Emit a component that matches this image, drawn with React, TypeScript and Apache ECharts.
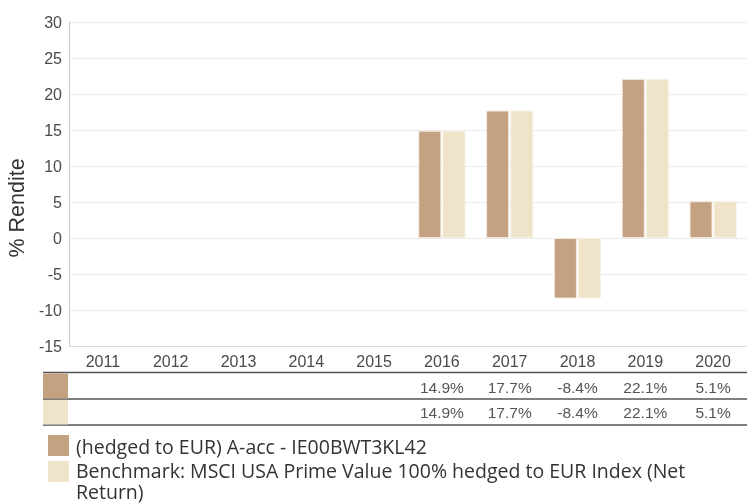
import React, { useEffect, useRef } from "react";
import * as echarts from "echarts";

const years = ["2011", "2012", "2013", "2014", "2015", "2016", "2017", "2018", "2019", "2020"];
const fundValues: (number | null)[] = [null, null, null, null, null, 14.9, 17.7, -8.4, 22.1, 5.1];
const benchValues: (number | null)[] = [null, null, null, null, null, 14.9, 17.7, -8.4, 22.1, 5.1];
const fundName = "(hedged to EUR) A-acc - IE00BWT3KL42";
const benchName = "Benchmark: MSCI USA Prime Value 100% hedged to EUR Index (Net\nReturn)";
const yTitle = "% Rendite";

const FUND_COLOR = "#c4a281";
const BENCH_COLOR = "#efe3c9";

const fmt = (v: number | null) => (v == null ? "" : v.toFixed(1) + "%");

export default function App() {
  const ref = useRef<HTMLDivElement>(null);
  useEffect(() => {
    document.body.style.margin = "0";
    const chart = echarts.init(ref.current!, null, { renderer: "svg" });
    const sansA = "'Liberation Sans', Arial, sans-serif";
    const sansB = "'Open Sans', 'Noto Sans', sans-serif";
    const valueAxis = (vals: (number | null)[], offset: number) => ({
      type: "category",
      data: years,
      position: "bottom",
      offset,
      axisLine: { show: false },
      axisTick: { show: false },
      axisLabel: {
        interval: 0,
        margin: 7,
        fontSize: 15.5,
        color: "#555",
        fontFamily: sansA,
        formatter: (_v: string, i: number) => fmt(vals[i]),
      },
    });
    chart.setOption({
      animation: false,
      grid: { left: 69, right: 0, top: 22, height: 324, containLabel: false },
      xAxis: [
        {
          type: "category",
          data: years,
          position: "bottom",
          axisLine: { onZero: false, lineStyle: { color: "#d8d8d8", width: 1 } },
          axisTick: { show: false },
          axisLabel: { interval: 0, margin: 7, fontSize: 16, color: "#4a4a4a", fontFamily: sansA },
        },
        valueAxis(fundValues, 26),
        valueAxis(benchValues, 51),
      ],
      yAxis: {
        type: "value",
        min: -15,
        max: 30,
        interval: 5,
        axisLine: { show: true, lineStyle: { color: "#c8c8c8" } },
        axisTick: { show: false },
        axisLabel: { fontSize: 16, color: "#4a4a4a", fontFamily: sansA, margin: 7 },
        splitLine: { lineStyle: { color: "#ebebeb" } },
      },
      series: [
        {
          name: fundName,
          type: "bar",
          data: fundValues,
          barWidth: 23,
          barGap: "5%",
          itemStyle: { color: FUND_COLOR, borderColor: "#f1e7dc", borderWidth: 1 },
        },
        {
          name: benchName,
          type: "bar",
          data: benchValues,
          barWidth: 23,
          itemStyle: { color: BENCH_COLOR, borderColor: "#f8f1e4", borderWidth: 1 },
        },
      ],
      graphic: [
        {
          type: "text",
          x: 17,
          y: 208,
          rotation: Math.PI / 2,
          style: {
            text: yTitle,
            fontSize: 21.5,
            fontFamily: sansA,
            fill: "#333",
            align: "center",
            verticalAlign: "middle",
          },
        },
        { type: "line", shape: { x1: 43, y1: 372.5, x2: 747, y2: 372.5 }, style: { stroke: "#555", lineWidth: 1.5 } },
        { type: "line", shape: { x1: 43, y1: 399, x2: 747, y2: 399 }, style: { stroke: "#555", lineWidth: 1.5 } },
        { type: "line", shape: { x1: 43, y1: 425, x2: 747, y2: 425 }, style: { stroke: "#555", lineWidth: 1.5 } },
        { type: "rect", shape: { x: 43, y: 373.5, width: 25, height: 25 }, style: { fill: FUND_COLOR } },
        { type: "rect", shape: { x: 43, y: 400, width: 25, height: 24.5 }, style: { fill: BENCH_COLOR } },
        { type: "rect", shape: { x: 48, y: 435, width: 21, height: 21 }, style: { fill: FUND_COLOR } },
        { type: "rect", shape: { x: 48, y: 461, width: 21, height: 21 }, style: { fill: BENCH_COLOR } },
        {
          type: "text",
          x: 76,
          y: 446,
          style: { text: fundName, fontSize: 19.5, lineHeight: 20, fontFamily: sansB, fill: "#333", verticalAlign: "middle" },
        },
        {
          type: "text",
          x: 76,
          y: 460,
          style: { text: benchName, fontSize: 19.5, lineHeight: 21, fontFamily: sansB, fill: "#333", verticalAlign: "top" },
        },
      ],
    });
    return () => chart.dispose();
  }, []);
  return <div ref={ref} style={{ position: "fixed", left: 0, top: 0, width: 747, height: 503 }} />;
}
